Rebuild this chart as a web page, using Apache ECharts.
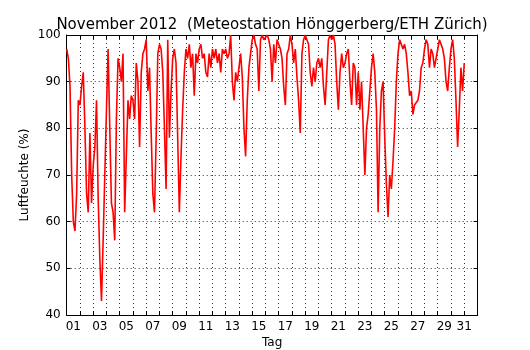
<!DOCTYPE html>
<html>
<head>
<meta charset="utf-8">
<script src="https://cdn.jsdelivr.net/npm/echarts@6/dist/echarts.min.js"></script>
<style>
  html, body { margin: 0; padding: 0; background: #fff; }
  #chart { width: 530px; height: 350px; }
</style>
</head>
<body>
<div id="chart"></div>
<script>
// relative humidity (%), 8 readings per day (every 3 h), Nov 1 .. Nov 30
const humidity = [
  [97, 95, 89, 70, 60, 58, 66, 86],   // 01
  [85, 89, 92, 80, 66, 62, 79, 64],   // 02
  [72, 76, 86, 65, 52, 43, 56, 70],   // 03
  [84, 97, 80, 64, 62, 56, 82, 95],   // 04
  [93, 90, 96, 62, 74, 86, 82, 87],   // 05
  [86, 82, 94, 90, 76, 92, 96, 97],   // 06
  [99, 88, 93, 79, 66, 62, 78, 96],   // 07
  [98, 97, 92, 80, 67, 99, 78, 88],   // 08
  [95, 97, 94, 78, 62, 74, 84, 92],   // 09
  [97, 95, 98, 93, 96, 87, 96, 94],   // 10
  [97, 98, 95, 96, 92, 91, 96, 93],   // 11
  [97, 95, 97, 94, 96, 92, 97, 96],   // 12
  [97, 95, 96, 100, 90, 86, 92, 90],  // 13
  [93, 96, 91, 80, 74, 86, 93, 96],   // 14
  [99, 100, 98, 97, 88, 99, 100, 99], // 15
  [99, 100, 99, 97, 90, 98, 94, 99],  // 16
  [99, 97, 95, 89, 85, 96, 97, 100],  // 17
  [98, 94, 97, 91, 86, 79, 96, 99],   // 18
  [100, 99, 98, 92, 89, 93, 90, 94],  // 19
  [95, 93, 95, 89, 85, 92, 99, 100],  // 20
  [99, 100, 98, 90, 84, 92, 96, 93],  // 21
  [94, 96, 97, 90, 85, 94, 93, 85],   // 22
  [92, 84, 90, 80, 70, 80, 83, 88],   // 23
  [93, 96, 92, 84, 62, 80, 88, 90],   // 24
  [78, 68, 61, 70, 67, 73, 80, 90],   // 25
  [96, 99, 98, 97, 98, 96, 92, 87],   // 26
  [88, 83, 85, 85, 86, 88, 93, 94],   // 27
  [97, 99, 98, 93, 97, 96, 93, 95],   // 28
  [97, 99, 98, 97, 95, 90, 88, 93],   // 29
  [97, 99, 95, 86, 76, 84, 93, 88]    // 30
];
const lastReading = 94; // Dec 1 00:00

const dayLabels = ["01", "03", "05", "07", "09", "11", "13", "15",
                   "17", "19", "21", "23", "25", "27", "29", "31"];

// build [time in days, value] points
const points = [];
humidity.forEach((day, d) => {
  day.forEach((v, i) => points.push([d + i / day.length, v]));
});
points.push([humidity.length, lastReading]);

// label positions: mid of the odd days, last one sits on the Nov 30 line
const labelPos = dayLabels.map((s, i) => (i === dayLabels.length - 1 ? 30 : 2 * i + 0.5));

const font = "DejaVu Sans";
const dotted = { type: [1, 3], color: "#000", width: 1, opacity: 0.8 };

const chart = echarts.init(document.getElementById("chart"), null, { renderer: "canvas" });

const baseX = {
  type: "value",
  min: 0,
  max: 31,
  interval: 1,
  axisLine: { show: true, onZero: false, lineStyle: { color: "#000", width: 1 } },
  axisTick: { show: true, inside: true, length: 4, lineStyle: { color: "#000" } }
};
const baseY = {
  type: "value",
  min: 40,
  max: 100,
  interval: 10,
  axisLine: { show: true, onZero: false, lineStyle: { color: "#000", width: 1 } },
  axisTick: { show: true, inside: true, length: 4, lineStyle: { color: "#000" } }
};

chart.setOption({
  animation: false,
  backgroundColor: "#fff",
  title: {
    text: "November 2012  (Meteostation Hönggerberg/ETH Zürich)",
    left: 267,
    top: 13,
    textAlign: "center",
    textStyle: { fontFamily: font, fontSize: 15, fontWeight: "normal", color: "#000" }
  },
  grid: { left: 66.7, right: 52.5, top: 35, bottom: 35, outerBoundsMode: "none" },
  xAxis: [
    Object.assign({}, baseX, {
      position: "bottom",
      name: "Tag",
      nameLocation: "middle",
      nameGap: 22,
      nameMoveOverlap: false,
      nameTextStyle: { fontFamily: font, fontSize: 12, color: "#000" },
      splitLine: { show: true, lineStyle: dotted },
      axisLabel: {
        show: true,
        customValues: labelPos,
        margin: 6,
        fontFamily: font,
        fontSize: 12,
        color: "#000",
        formatter: (v) => dayLabels[labelPos.indexOf(v)] || ""
      }
    }),
    Object.assign({}, baseX, {
      position: "top",
      splitLine: { show: false },
      axisLabel: { show: false }
    })
  ],
  yAxis: [
    Object.assign({}, baseY, {
      position: "left",
      name: "Luftfeuchte (%)",
      nameLocation: "middle",
      nameGap: 36,
      nameMoveOverlap: false,
      nameTextStyle: { fontFamily: font, fontSize: 12, color: "#000" },
      splitLine: { show: true, lineStyle: dotted },
      axisLabel: { show: true, margin: 6, fontFamily: font, fontSize: 12, color: "#000" }
    }),
    Object.assign({}, baseY, {
      position: "right",
      splitLine: { show: false },
      axisLabel: { show: false }
    })
  ],
  series: [
    {
      type: "line",
      data: points,
      showSymbol: false,
      lineStyle: { color: "#ff0000", width: 1.6 },
      itemStyle: { color: "#ff0000" }
    }
  ]
});
</script>
</body>
</html>
